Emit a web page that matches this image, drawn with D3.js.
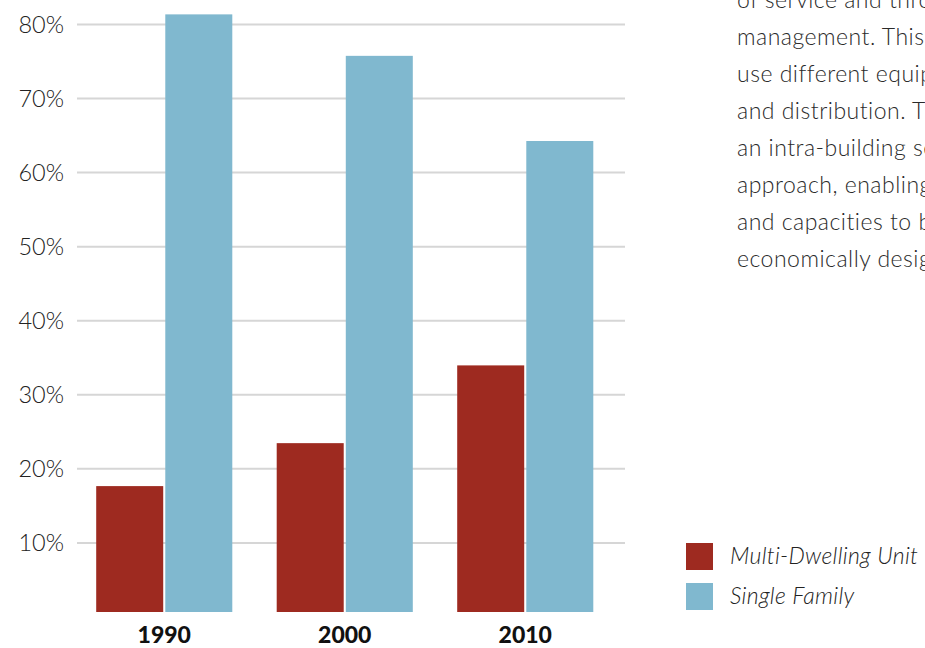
<!DOCTYPE html>
<html>
<head>
<meta charset="utf-8">
<script src="https://cdn.jsdelivr.net/npm/d3@7"></script>
<style>
  body { margin: 0; background: #fff; }
  svg { display: block; }
  .tick-label { font-family: Lato, "Open Sans", sans-serif; font-size: 23.5px; font-weight: 300; fill: #222; }
  .year { font-family: Lato, "Open Sans", sans-serif; font-size: 23px; font-weight: 900; fill: #111; }
  .legend-label { font-family: Lato, "Open Sans", sans-serif; font-size: 23px; font-weight: 300; font-style: italic; fill: #222; letter-spacing: 0.3px; }
  .para { font-family: Lato, "Open Sans", sans-serif; font-size: 23px; font-weight: 300; fill: #2a2a2a; letter-spacing: 0.5px; }
</style>
</head>
<body>
<svg class="chart"></svg>
<script>
// Share of new housing starts, by decade
var years = ['1990', '2000', '2010'];
var seriesNames = ['Multi-Dwelling Unit', 'Single Family'];
var multiDwelling = [17.6, 23.4, 33.9];
var singleFamily = [81.3, 75.7, 64.2];
var yTicks = [10, 20, 30, 40, 50, 60, 70, 80];
var paragraphLines = [
  'of service and thro',
  'management. This',
  'use different equip',
  'and distribution. T',
  'an intra-building se',
  'approach, enabling',
  'and capacities to b',
  'economically desig'
];

var colors = {
  'Multi-Dwelling Unit': '#9e2a20',
  'Single Family': '#80b8cf'
};

var chartWidth = 925;
var chartHeight = 648;

var chart = d3.select('.chart').attr('width', chartWidth).attr('height', chartHeight);

// the bars sit a touch above the zero line in the original
var y = d3.scaleLinear().domain([0.6, 80]).range([612, 24]);

var x = d3.scaleBand()
    .domain(years)
    .range([74, 615.5])
    .paddingInner(0.246)
    .paddingOuter(0.123);

var xInner = d3.scaleBand()
    .domain(seriesNames)
    .range([0, x.bandwidth()])
    .paddingInner(0.03);

// gridlines + tick labels
var yAxis = d3.axisLeft(y)
    .tickValues(yTicks)
    .tickSize(-(625 - 77))
    .tickPadding(13)
    .tickFormat(d => d + '%');

chart.append('g')
    .attr('class', 'axis')
    .attr('transform', 'translate(77, 0)')
    .call(yAxis)
    .call(g => g.attr('font-family', null).attr('font-size', null))
    .call(g => g.select('.domain').remove())
    .call(g => g.selectAll('.tick line')
        .attr('stroke', '#d6d6d6')
        .attr('stroke-width', 2))
    .call(g => g.selectAll('.tick text')
        .attr('class', 'tick-label')
        .attr('dy', '0.36em')
        .attr('x', -13));

var rows = years.map((yr, i) => ({
  year: yr,
  values: [
    {name: seriesNames[0], value: multiDwelling[i]},
    {name: seriesNames[1], value: singleFamily[i]}
  ]
}));

var groups = chart.selectAll('g.year-group')
    .data(rows)
    .join('g')
    .attr('class', 'year-group')
    .attr('transform', d => 'translate(' + x(d.year) + ', 0)');

groups.selectAll('rect')
    .data(d => d.values)
    .join('rect')
    .attr('x', d => xInner(d.name))
    .attr('y', d => y(d.value))
    .attr('width', xInner.bandwidth())
    .attr('height', d => y(0.6) - y(d.value))
    .attr('fill', d => colors[d.name]);

var xAxis = d3.axisBottom(x).tickSize(0).tickPadding(0);
chart.append('g')
    .attr('transform', 'translate(0, 643)')
    .call(xAxis)
    .call(g => g.attr('font-family', null).attr('font-size', null))
    .call(g => g.select('.domain').remove())
    .call(g => g.selectAll('.tick text')
        .attr('class', 'year')
        .attr('y', 0)
        .attr('dy', 0));

// legend
var legend = chart.append('g').attr('transform', 'translate(686, 543)');
var legendItems = legend.selectAll('g')
    .data(seriesNames)
    .join('g')
    .attr('transform', (d, i) => 'translate(0, ' + i * 40 + ')');
legendItems.append('rect')
    .attr('width', 27)
    .attr('height', 27)
    .attr('fill', d => colors[d]);
legendItems.append('text')
    .attr('class', 'legend-label')
    .attr('x', 44)
    .attr('y', 21)
    .text(d => d);

// body text running along the right edge
chart.append('g')
    .selectAll('text')
    .data(paragraphLines)
    .join('text')
    .attr('class', 'para')
    .attr('x', 737)
    .attr('y', (d, i) => 8 + i * 37)
    .text(d => d);
</script>
</body>
</html>
